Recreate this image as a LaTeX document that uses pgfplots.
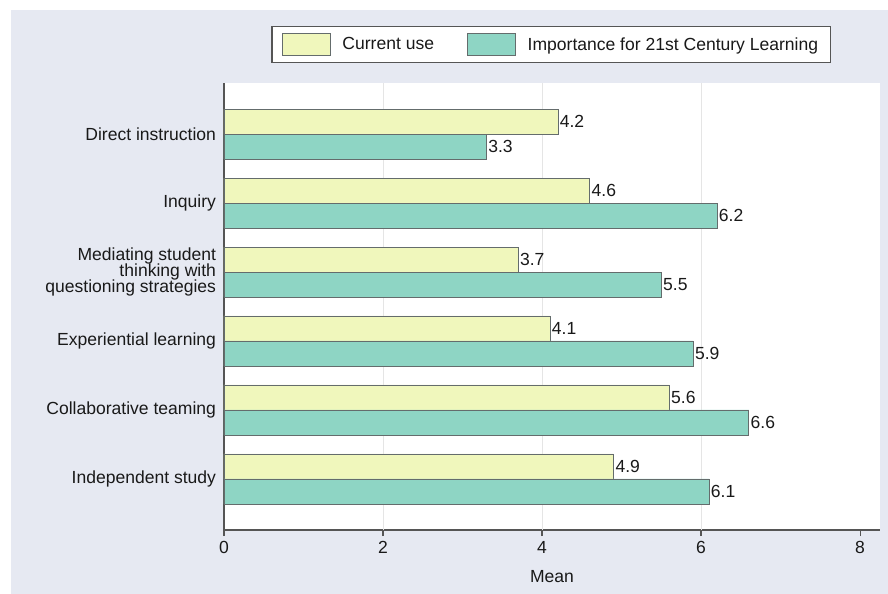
\documentclass[border=0pt]{standalone}
\usepackage{fontspec}
\setmainfont{Liberation Sans}
\usepackage{pgfplots}
\pgfplotsset{compat=1.18}

\definecolor{bgc}{RGB}{230,233,242}
\definecolor{cuse}{RGB}{240,247,188}
\definecolor{imp}{RGB}{142,213,196}
\definecolor{edge}{RGB}{100,108,108}
\definecolor{txt}{RGB}{25,25,25}
\definecolor{axc}{RGB}{85,85,85}
\newcommand{\lblfont}{\fontsize{17.6}{16.5}\selectfont}

\begin{document}
\begin{tikzpicture}
\useasboundingbox (-224bp,-64bp) rectangle (664bp,530bp);
\fill[bgc] (-213bp,-64bp) rectangle (664bp,520bp);
\begin{axis}[
  at={(0,0)}, anchor=south west,
  scale only axis, width=656bp, height=447bp,
  xmin=0, xmax=8.25, ymin=0.26, ymax=6.74,
  axis background/.style={fill=white},
  axis x line*=bottom, axis y line*=left,
  axis line style={draw=axc, line width=1.3bp, -},
  xtick={0,2,4,6,8}, ytick={1,...,6},
  yticklabels={Independent study, Collaborative teaming, Experiential learning,
    {Mediating student\\thinking with\\questioning strategies}, Inquiry, Direct instruction},
  ticklabel style={font=\lblfont, text=txt},
  yticklabel style={align=right, xshift=1.5bp},
  xticklabel style={yshift=-2bp},
  /pgf/number format/assume math mode=true,
  y tick style={draw=none},
  x tick style={draw=axc, line width=1.2bp},
  tick align=outside, major tick length=6bp,
  extra x ticks={2,4,6}, extra x tick labels={},
  extra x tick style={xmajorgrids=true, major tick length=0bp},
  grid style={draw=black!10, line width=0.9bp},
  xlabel={Mean},
  xlabel style={font=\lblfont, text=txt, yshift=-4bp},
  xbar, bar width=25bp,
  nodes near coords,
  point meta=x,
  every node near coord/.append style={font=\lblfont, text=txt,
    anchor=west, inner xsep=1.5bp,
    /pgf/number format/fixed, /pgf/number format/precision=1, /pgf/number format/fixed zerofill},
  legend columns=2,
  legend style={at={(0.4985,1.086)}, anchor=center, draw=axc, line width=1.2bp, fill=white,
    font=\lblfont, text=txt, inner xsep=10bp, inner ysep=7bp,
    /tikz/every odd column/.append style={column sep=10bp},
    /tikz/every even column/.append style={column sep=31bp}},
  legend image code/.code={\draw[#1, line width=0.6bp] (0bp,-11bp) rectangle (48bp,11bp);},
]
\addplot[fill=cuse, draw=edge, line width=0.8bp, bar shift=12.5bp] coordinates {
  (4.9,1) (5.6,2) (4.1,3) (3.7,4) (4.6,5) (4.2,6)};
\addlegendentry{Current use}
\addplot[fill=imp, draw=edge, line width=0.8bp, bar shift=-12.5bp] coordinates {
  (6.1,1) (6.6,2) (5.9,3) (5.5,4) (6.2,5) (3.3,6)};
\addlegendentry{Importance for 21st Century Learning\hspace{10bp}}
\end{axis}
\end{tikzpicture}
\end{document}
